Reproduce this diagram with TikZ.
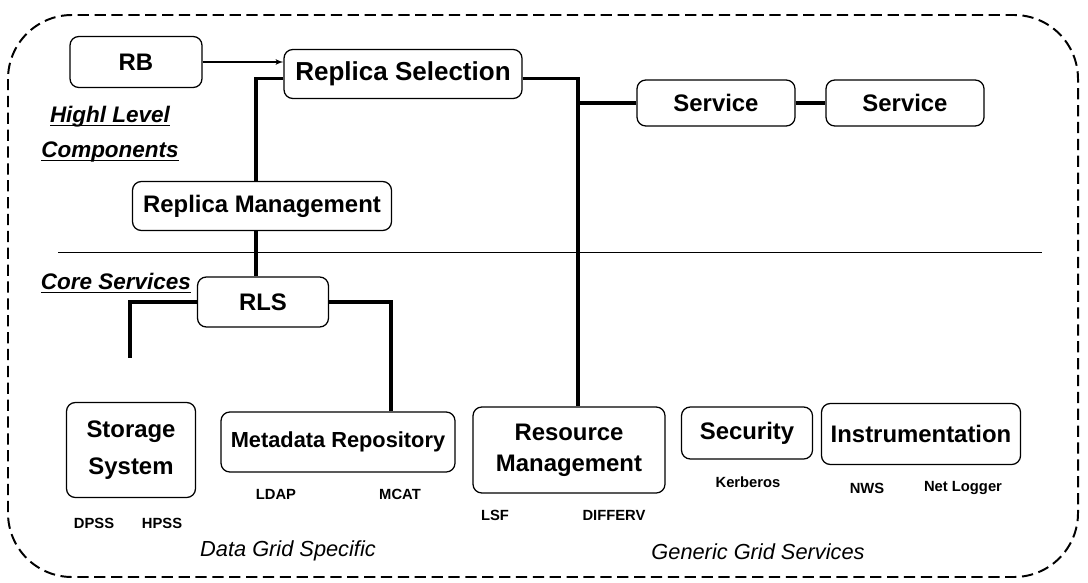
\documentclass[tikz,border=0pt]{standalone}
\usepackage{fontspec}
\setmainfont{Liberation Sans}
\usepackage{tikz}
\usetikzlibrary{arrows}
\newcommand{\lvlul}[1]{\setbox0\hbox{#1}\rlap{\rule[-2.5pt]{\wd0}{0.9pt}}\box0}
\tikzstyle{line} = [draw, -latex', line width=0.9pt]
\tikzstyle{conn} = [draw, line width=2.4pt]
\tikzstyle{comp} = [rectangle, draw, rounded corners=0.22cm, line width=0.9pt, align=center, font=\fontsize{17}{22}\bfseries\selectfont]
\tikzstyle{tag} = [font=\fontsize{10.5}{12}\bfseries\selectfont]
\tikzstyle{layer} = [font=\fontsize{16}{18}\bfseries\itshape\selectfont]
\tikzstyle{group} = [font=\fontsize{15.5}{18}\itshape\selectfont]

\begin{document}
\begin{tikzpicture}
	\useasboundingbox (0,0) rectangle (27.2,-14.55);
	
	\draw [dash pattern=on 8pt off 4pt, line width=1.4pt, rounded corners=1.6cm] (0.2,-0.375) rectangle (26.95,-14.425);
	
	% high level components
	\node [comp, minimum width=3.3cm, minimum height=1.275cm] (rb) at (3.4,-1.55) {RB};
	\node [comp, minimum width=5.95cm, minimum height=1.225cm, font=\fontsize{18.5}{22}\bfseries\selectfont] (rs) at (10.075,-1.85) {Replica Selection};
	\node [comp, minimum width=3.95cm, minimum height=1.15cm] (s1) at (17.9,-2.575) {Service};
	\node [comp, right of=s1, node distance=4.725cm, minimum width=3.95cm, minimum height=1.15cm] (s2) {Service};
	\node [comp, minimum width=6.475cm, minimum height=1.225cm] (rm) at (6.55,-5.15) {Replica Management};
	
	\node [layer] (hl1) at (2.75,-2.925) {\lvlul{Highl Level}};
	\node [layer] (hl2) at (2.75,-3.8) {\lvlul{Components}};
	
	\draw (1.45,-6.3) -- (26.05,-6.3);
	
	% core services
	\node [layer] (core) at (2.9,-7.075) {\lvlul{Core Services}};
	\node [comp, minimum width=3.275cm, minimum height=1.25cm] (rls) at (6.575,-7.55) {RLS};
	
	\node [comp, minimum width=3.225cm, minimum height=2.375cm, font=\fontsize{17}{26}\bfseries\selectfont] (ss) at (3.275,-11.25) {Storage\\System};
	\node [comp, minimum width=5.85cm, minimum height=1.5cm, font=\fontsize{15.5}{20}\bfseries\selectfont] (md) at (8.45,-11.05) {Metadata Repository};
	\node [comp, minimum width=4.8cm, minimum height=2.15cm] (res) at (14.225,-11.25) {Resource\\Management};
	\node [comp, minimum width=3.275cm, minimum height=1.3cm] (sec) at (18.675,-10.825) {Security};
	\node [comp, minimum width=4.975cm, minimum height=1.525cm] (ins) at (23.025,-10.85) {Instrumentation};
	
	\node [tag] (dpss) at (2.35,-13.075) {DPSS};
	\node [tag, right of=dpss, node distance=1.7cm] (hpss) {HPSS};
	\node [tag] (ldap) at (6.9,-12.35) {LDAP};
	\node [tag, right of=ldap, node distance=3.1cm] (mcat) {MCAT};
	\node [tag] (lsf) at (12.375,-12.875) {LSF};
	\node [tag, right of=lsf, node distance=2.975cm] (differv) {DIFFERV};
	\node [tag] (kerb) at (18.7,-12.05) {Kerberos};
	\node [tag] (nws) at (21.675,-12.2) {NWS};
	\node [tag, right of=nws, node distance=2.4cm] (netlog) {Net Logger};
	
	\node [group] (dgs) at (7.2,-13.775) {Data Grid Specific};
	\node [group] (ggs) at (18.95,-13.8) {Generic Grid Services};
	
	\coordinate (ssend) at (3.25,-8.95);
	\coordinate (trunk) at ([xshift=0.225cm]res.north);
	
	\path [line] (rb.east) -- (rb.east -| rs.west);
	\path [conn] ([yshift=-3pt]rs.west) -| ([xshift=-0.15cm]rm.north);
	\path [conn] ([xshift=-0.15cm]rm.south) -- ([xshift=-0.15cm]rm.south |- rls.north);
	\path [conn] ([yshift=-3pt]rs.east) -| (trunk);
	\path [conn] (s1.west) -- (s1.west -| trunk);
	\path [conn] (s1.east) -- (s2.west);
	\path [conn] (rls.west) -| (ssend);
	\path [conn] (rls.east) -| ([xshift=1.325cm]md.north);
	
\end{tikzpicture}
\end{document}
